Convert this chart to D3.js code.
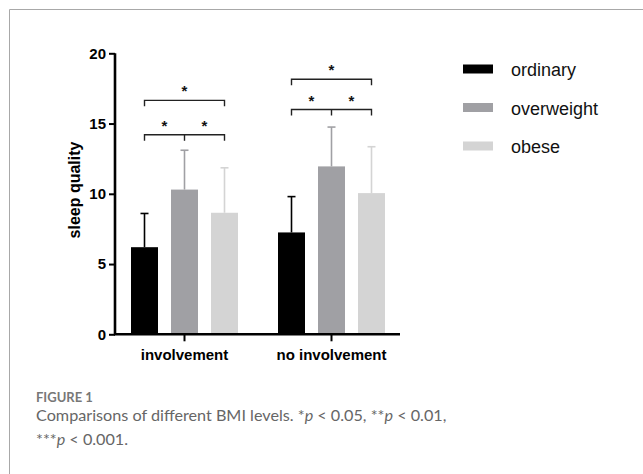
<!DOCTYPE html>
<html>
<head>
<meta charset="utf-8">
<script src="https://cdn.jsdelivr.net/npm/d3@7"></script>
<style>
  html, body { margin: 0; padding: 0; background: #fff; }
  svg { display: block; }
</style>
</head>
<body>
<svg id="chart" width="643" height="474"></svg>
<script>
(function () {
  'use strict';

  // data
  var groups = ['involvement', 'no involvement'];
  var series = ['ordinary', 'overweight', 'obese'];
  var colors = ['#000000', '#a0a0a4', '#d4d4d4'];
  var means = [
    [6.2, 10.3, 8.65],
    [7.25, 11.95, 10.05]
  ];
  var sds = [
    [2.4, 2.8, 3.2],
    [2.55, 2.8, 3.3]
  ];
  var yTicks = [0, 5, 10, 15, 20];
  // significance brackets: [group, fromSeries, toSeries, level, labels]
  var brackets = [
    [0, 0, 2, 14.2, ['*', '*']],
    [0, 0, 2, 16.65, ['*']],
    [1, 0, 2, 16.0, ['*', '*']],
    [1, 0, 2, 18.15, ['*']]
  ];
  var captionTitle = 'FIGURE 1';

  var svg = d3.select('#chart');
  var font = '"Liberation Sans", Arial, sans-serif';

  // frame of the figure panel
  svg.append('path')
    .attr('d', 'M9.5,474 V9.5 H643')
    .attr('fill', 'none')
    .attr('stroke', '#a8a8a8')
    .attr('stroke-width', 1);

  var y = d3.scaleLinear().domain([0, 20]).range([334.3, 53.3]);
  var x0 = d3.scaleBand().domain(groups).range([111, 405]).padding(0);
  var x1 = d3.scaleBand().domain(series).range([-60, 60])
    .paddingInner(0.325).paddingOuter(0.1625);

  var plot = svg.append('g');

  // bars + error bars
  groups.forEach(function (g, gi) {
    var cx = x0(g) + x0.bandwidth() / 2;
    series.forEach(function (s, si) {
      var bx = cx + x1(s);
      var bw = x1.bandwidth();
      var m = means[gi][si];
      var top = m + sds[gi][si];
      plot.append('rect')
        .attr('x', bx)
        .attr('y', y(m))
        .attr('width', bw)
        .attr('height', y(0) - y(m))
        .attr('fill', colors[si]);
      var mx = bx + bw / 2;
      plot.append('line')
        .attr('x1', mx).attr('x2', mx)
        .attr('y1', y(m)).attr('y2', y(top))
        .attr('stroke', colors[si]).attr('stroke-width', 1.6);
      plot.append('line')
        .attr('x1', mx - 4).attr('x2', mx + 4)
        .attr('y1', y(top)).attr('y2', y(top))
        .attr('stroke', colors[si]).attr('stroke-width', 1.6);
    });
  });

  // significance brackets
  brackets.forEach(function (b) {
    var cx = x0(groups[b[0]]) + x0.bandwidth() / 2;
    var xa = cx + x1(series[b[1]]) + x1.bandwidth() / 2;
    var xb = cx + x1(series[b[2]]) + x1.bandwidth() / 2;
    var yy = y(b[3]);
    var drop = 6;
    plot.append('path')
      .attr('d', 'M' + xa + ',' + (yy + drop) + ' V' + yy + ' H' + xb + ' V' + (yy + drop))
      .attr('fill', 'none')
      .attr('stroke', '#222')
      .attr('stroke-width', 1.4);
    var labels = b[4];
    var pos;
    if (labels.length === 2) {
      var xm = (xa + xb) / 2;
      plot.append('line')
        .attr('x1', xm).attr('x2', xm)
        .attr('y1', yy).attr('y2', yy + drop)
        .attr('stroke', '#222').attr('stroke-width', 1.4);
      pos = [(xa + xm) / 2, (xm + xb) / 2];
    } else {
      pos = [(xa + xb) / 2];
    }
    labels.forEach(function (t, i) {
      plot.append('text')
        .attr('x', pos[i])
        .attr('y', yy - 4)
        .attr('text-anchor', 'middle')
        .attr('font-family', font)
        .attr('font-weight', 'bold')
        .attr('font-size', 15)
        .attr('fill', '#111')
        .text(t);
    });
  });

  // y axis
  var yAxis = d3.axisLeft(y).tickValues(yTicks).tickSize(6).tickPadding(3);
  var gy = svg.append('g').attr('transform', 'translate(115,0)').call(yAxis);
  gy.select('.domain').attr('stroke', '#000').attr('stroke-width', 2.6)
    .attr('d', 'M0,' + y(20) + 'V' + y(0));
  gy.selectAll('.tick line').attr('stroke', '#000').attr('stroke-width', 2);
  gy.selectAll('.tick text')
    .attr('font-family', font).attr('font-weight', 'bold')
    .attr('font-size', 15).attr('fill', '#000');

  // x axis
  var xAxis = d3.axisBottom(x0).tickSize(7).tickPadding(8);
  var gx = svg.append('g').attr('transform', 'translate(0,' + y(0) + ')').call(xAxis);
  gx.select('.domain').attr('stroke', '#000').attr('stroke-width', 2.6)
    .attr('d', 'M114,0H400');
  gx.selectAll('.tick line').attr('stroke', '#000').attr('stroke-width', 2);
  gx.selectAll('.tick text')
    .attr('font-family', font).attr('font-weight', 'bold')
    .attr('font-size', 15).attr('fill', '#000');

  // y label
  svg.append('text')
    .attr('transform', 'translate(79.5,190) rotate(-90)')
    .attr('text-anchor', 'middle')
    .attr('font-family', font).attr('font-weight', 'bold')
    .attr('font-size', 16).attr('fill', '#000')
    .text('sleep quality');

  // legend
  var legend = svg.append('g').attr('transform', 'translate(463,69)');
  series.forEach(function (s, i) {
    var row = legend.append('g').attr('transform', 'translate(0,' + (i * 38.5) + ')');
    row.append('rect')
      .attr('x', 0).attr('y', -4.5)
      .attr('width', 30).attr('height', 9)
      .attr('fill', colors[i]);
    row.append('text')
      .attr('x', 48).attr('y', 7)
      .attr('font-family', font)
      .attr('font-size', 18).attr('fill', '#111')
      .text(s);
  });

  // caption
  var capFont = 'Lato, "Open Sans", sans-serif';
  svg.append('text')
    .attr('x', 36).attr('y', 401.5)
    .attr('font-family', capFont).attr('font-weight', 'bold')
    .attr('font-size', 13).attr('fill', '#777')
    .text(captionTitle);

  var cap1 = svg.append('text')
    .attr('x', 36).attr('y', 421)
    .attr('font-family', capFont)
    .attr('font-size', 16.2).attr('fill', '#666');
  cap1.append('tspan').text('Comparisons of different BMI levels. *');
  cap1.append('tspan').attr('font-style', 'italic').text('p');
  cap1.append('tspan').text(' < 0.05, **');
  cap1.append('tspan').attr('font-style', 'italic').text('p');
  cap1.append('tspan').text(' < 0.01,');

  var cap2 = svg.append('text')
    .attr('x', 36).attr('y', 445)
    .attr('font-family', capFont)
    .attr('font-size', 16.2).attr('fill', '#666');
  cap2.append('tspan').text('***');
  cap2.append('tspan').attr('font-style', 'italic').text('p');
  cap2.append('tspan').text(' < 0.001.');
}());
</script>
</body>
</html>
